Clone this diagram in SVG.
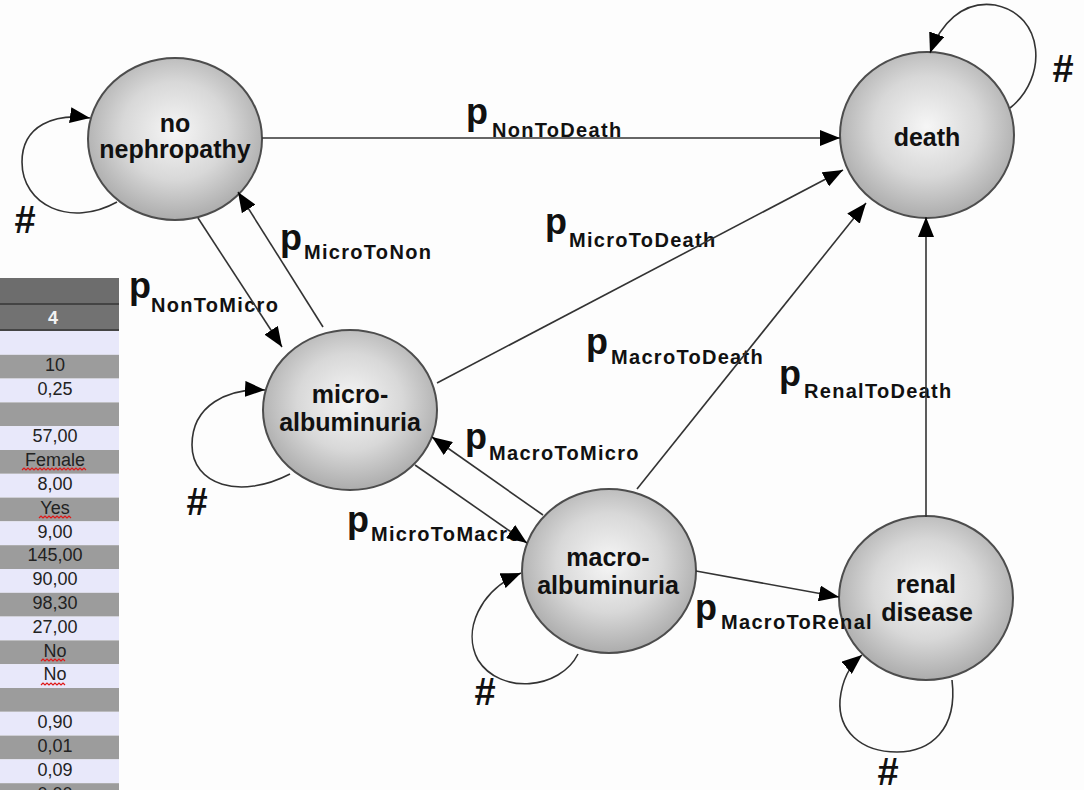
<svg xmlns="http://www.w3.org/2000/svg" width="1084" height="790" viewBox="0 0 1084 790">
<defs>
<radialGradient id="ball" cx="50%" cy="45%" r="55%">
<stop offset="0" stop-color="#f6f6f6"/>
<stop offset="0.55" stop-color="#d8d8d8"/>
<stop offset="1" stop-color="#acacac"/>
</radialGradient>
<marker id="ah" markerUnits="userSpaceOnUse" markerWidth="22" markerHeight="16" refX="20" refY="8" orient="auto">
<path d="M0,0 L20,8 L0,16 z" fill="#000"/>
</marker>
</defs>
<style>
.node ellipse{fill:url(#ball);stroke:#4d4d4d;stroke-width:2}
.node text{font-family:"Liberation Sans",Arial,sans-serif;font-weight:bold;font-size:25px;fill:#111;text-anchor:middle}
.edge{fill:none;stroke:#333;stroke-width:1.6;marker-end:url(#ah)}
.p{font-family:"Liberation Sans",Arial,sans-serif;font-weight:bold;font-size:36px;fill:#111}
.sub{font-family:"Liberation Sans",Arial,sans-serif;font-weight:bold;font-size:20px;letter-spacing:1.3px;fill:#111}
.hash{font-family:"Liberation Sans",Arial,sans-serif;font-weight:bold;font-size:38px;fill:#111;text-anchor:middle}
.lt{fill:#e8e8fa}
.dk{fill:#9c9c9c}
.cell{font-family:"Liberation Sans",Arial,sans-serif;font-size:18px;fill:#222;text-anchor:middle}
.sq{fill:none;stroke:#e01818;stroke-width:1.2}
</style>
<rect width="1084" height="790" fill="#fdfdfd"/>

<g id="spreadsheet">
<rect x="0" y="278" width="119" height="25" fill="#6d6d6d"/>
<rect x="0" y="303" width="119" height="2" fill="#444"/>
<rect x="0" y="305" width="119" height="24" fill="#727272"/>
<rect x="0" y="329" width="119" height="2" fill="#444"/>
<text x="53" y="324" class="cell" style="fill:#f2f2f2;font-weight:bold">4</text>
<rect x="0" y="331" width="119" height="23.8" class="lt"/>
<rect x="0" y="354.8" width="119" height="23.8" class="dk"/>
<rect x="0" y="378.6" width="119" height="23.8" class="lt"/>
<rect x="0" y="402.4" width="119" height="23.8" class="dk"/>
<rect x="0" y="426.2" width="119" height="23.8" class="lt"/>
<rect x="0" y="450" width="119" height="23.8" class="dk"/>
<rect x="0" y="473.8" width="119" height="23.8" class="lt"/>
<rect x="0" y="497.6" width="119" height="23.8" class="dk"/>
<rect x="0" y="521.4" width="119" height="23.8" class="lt"/>
<rect x="0" y="545.2" width="119" height="23.8" class="dk"/>
<rect x="0" y="569" width="119" height="23.8" class="lt"/>
<rect x="0" y="592.8" width="119" height="23.8" class="dk"/>
<rect x="0" y="616.6" width="119" height="23.8" class="lt"/>
<rect x="0" y="640.4" width="119" height="23.8" class="dk"/>
<rect x="0" y="664.2" width="119" height="23.8" class="lt"/>
<rect x="0" y="688" width="119" height="23.8" class="dk"/>
<rect x="0" y="711.8" width="119" height="23.8" class="lt"/>
<rect x="0" y="735.6" width="119" height="23.8" class="dk"/>
<rect x="0" y="759.4" width="119" height="23.8" class="lt"/>
<rect x="0" y="783.2" width="119" height="10" class="dk"/>
<text x="55" y="371" class="cell">10</text>
<text x="55" y="395" class="cell">0,25</text>
<text x="55" y="442" class="cell">57,00</text>
<text x="55" y="466" class="cell">Female</text>
<text x="55" y="490" class="cell">8,00</text>
<text x="55" y="514" class="cell">Yes</text>
<text x="55" y="538" class="cell">9,00</text>
<text x="55" y="561" class="cell">145,00</text>
<text x="55" y="585" class="cell">90,00</text>
<text x="55" y="609" class="cell">98,30</text>
<text x="55" y="633" class="cell">27,00</text>
<text x="55" y="657" class="cell">No</text>
<text x="55" y="680" class="cell">No</text>
<text x="55" y="728" class="cell">0,90</text>
<text x="55" y="752" class="cell">0,01</text>
<text x="55" y="776" class="cell">0,09</text>
<text x="55" y="800" class="cell">0,00</text>
<path class="sq" d="M22,470 l2,-2 l2,2 l2,-2 l2,2 l2,-2 l2,2 l2,-2 l2,2 l2,-2 l2,2 l2,-2 l2,2 l2,-2 l2,2 l2,-2 l2,2 l2,-2 l2,2 l2,-2 l2,2 l2,-2 l2,2 l2,-2 l2,2 l2,-2 l2,2 l2,-2 l2,2 l2,-2 l2,2 l2,-2 l2,2"/>
<path class="sq" d="M39,518 l2,-2 l2,2 l2,-2 l2,2 l2,-2 l2,2 l2,-2 l2,2 l2,-2 l2,2 l2,-2 l2,2 l2,-2 l2,2 l2,-2 l2,2"/>
<path class="sq" d="M41,661 l2,-2 l2,2 l2,-2 l2,2 l2,-2 l2,2 l2,-2 l2,2 l2,-2 l2,2 l2,-2 l2,2"/>
<path class="sq" d="M41,685 l2,-2 l2,2 l2,-2 l2,2 l2,-2 l2,2 l2,-2 l2,2 l2,-2 l2,2 l2,-2 l2,2"/>
</g>

<g id="node-no-nephropathy" class="node">
<ellipse cx="175" cy="139" rx="87" ry="81"/>
<text x="175" y="132">no</text>
<text x="175" y="158">nephropathy</text>
</g>
<g id="node-death" class="node">
<ellipse cx="927" cy="135" rx="87" ry="83"/>
<text x="927" y="146">death</text>
</g>
<g id="node-micro" class="node">
<ellipse cx="350" cy="410" rx="87" ry="80"/>
<text x="350" y="403">micro-</text>
<text x="350" y="431">albuminuria</text>
</g>
<g id="node-macro" class="node">
<ellipse cx="609" cy="571" rx="87" ry="82"/>
<text x="608" y="566">macro-</text>
<text x="608" y="594">albuminuria</text>
</g>
<g id="node-renal" class="node">
<ellipse cx="926" cy="598" rx="87" ry="82"/>
<text x="926" y="593">renal</text>
<text x="927" y="621">disease</text>
</g>

<g id="edge-labels">
<text class="p" x="466" y="124">p</text><text class="sub" x="492" y="137">NonToDeath</text>
<text class="p" x="280" y="250">p</text><text class="sub" x="304" y="259">MicroToNon</text>
<text class="p" x="129" y="298">p</text><text class="sub" x="151" y="312">NonToMicro</text>
<text class="p" x="545" y="234">p</text><text class="sub" x="569" y="247">MicroToDeath</text>
<text class="p" x="586" y="354">p</text><text class="sub" x="611" y="364">MacroToDeath</text>
<text class="p" x="779" y="386">p</text><text class="sub" x="804" y="398">RenalToDeath</text>
<text class="p" x="465" y="449">p</text><text class="sub" x="489" y="460">MacroToMicro</text>
<text class="p" x="347" y="532">p</text><text class="sub" x="371" y="541">MicroToMacro</text>
<text class="p" x="695" y="620">p</text><text class="sub" x="721" y="629">MacroToRenal</text>
<text class="hash" x="25" y="233">#</text>
<text class="hash" x="1063" y="82">#</text>
<text class="hash" x="197" y="515">#</text>
<text class="hash" x="485" y="705">#</text>
<text class="hash" x="888" y="785">#</text>
</g>

<g id="connectors">
<path class="edge" d="M262,138 L840,138"/>
<path class="edge" d="M198,218 L282,347"/>
<path class="edge" d="M323,327 L238,192"/>
<path class="edge" d="M437,383 L843,170"/>
<path class="edge" d="M637,489 L866,203"/>
<path class="edge" d="M926,517 L926,217"/>
<path class="edge" d="M415,465 L527,543"/>
<path class="edge" d="M543,515 L432,437"/>
<path class="edge" d="M696,571 L839,597"/>
<path class="edge" d="M117,202 C70,228 22,205 22,162 C22,125 55,113 90,118"/>
<path class="edge" d="M1010,108 C1048,78 1045,15 995,5 C962,0 940,25 930,53"/>
<path class="edge" d="M290,474 C240,500 192,485 192,445 C192,405 228,388 265,390"/>
<path class="edge" d="M578,654 C560,690 500,695 478,660 C462,630 480,590 521,573"/>
<path class="edge" d="M952,680 C958,730 930,752 897,752 C860,752 838,730 840,700 C842,680 850,665 862,655"/>
</g>
</svg>
